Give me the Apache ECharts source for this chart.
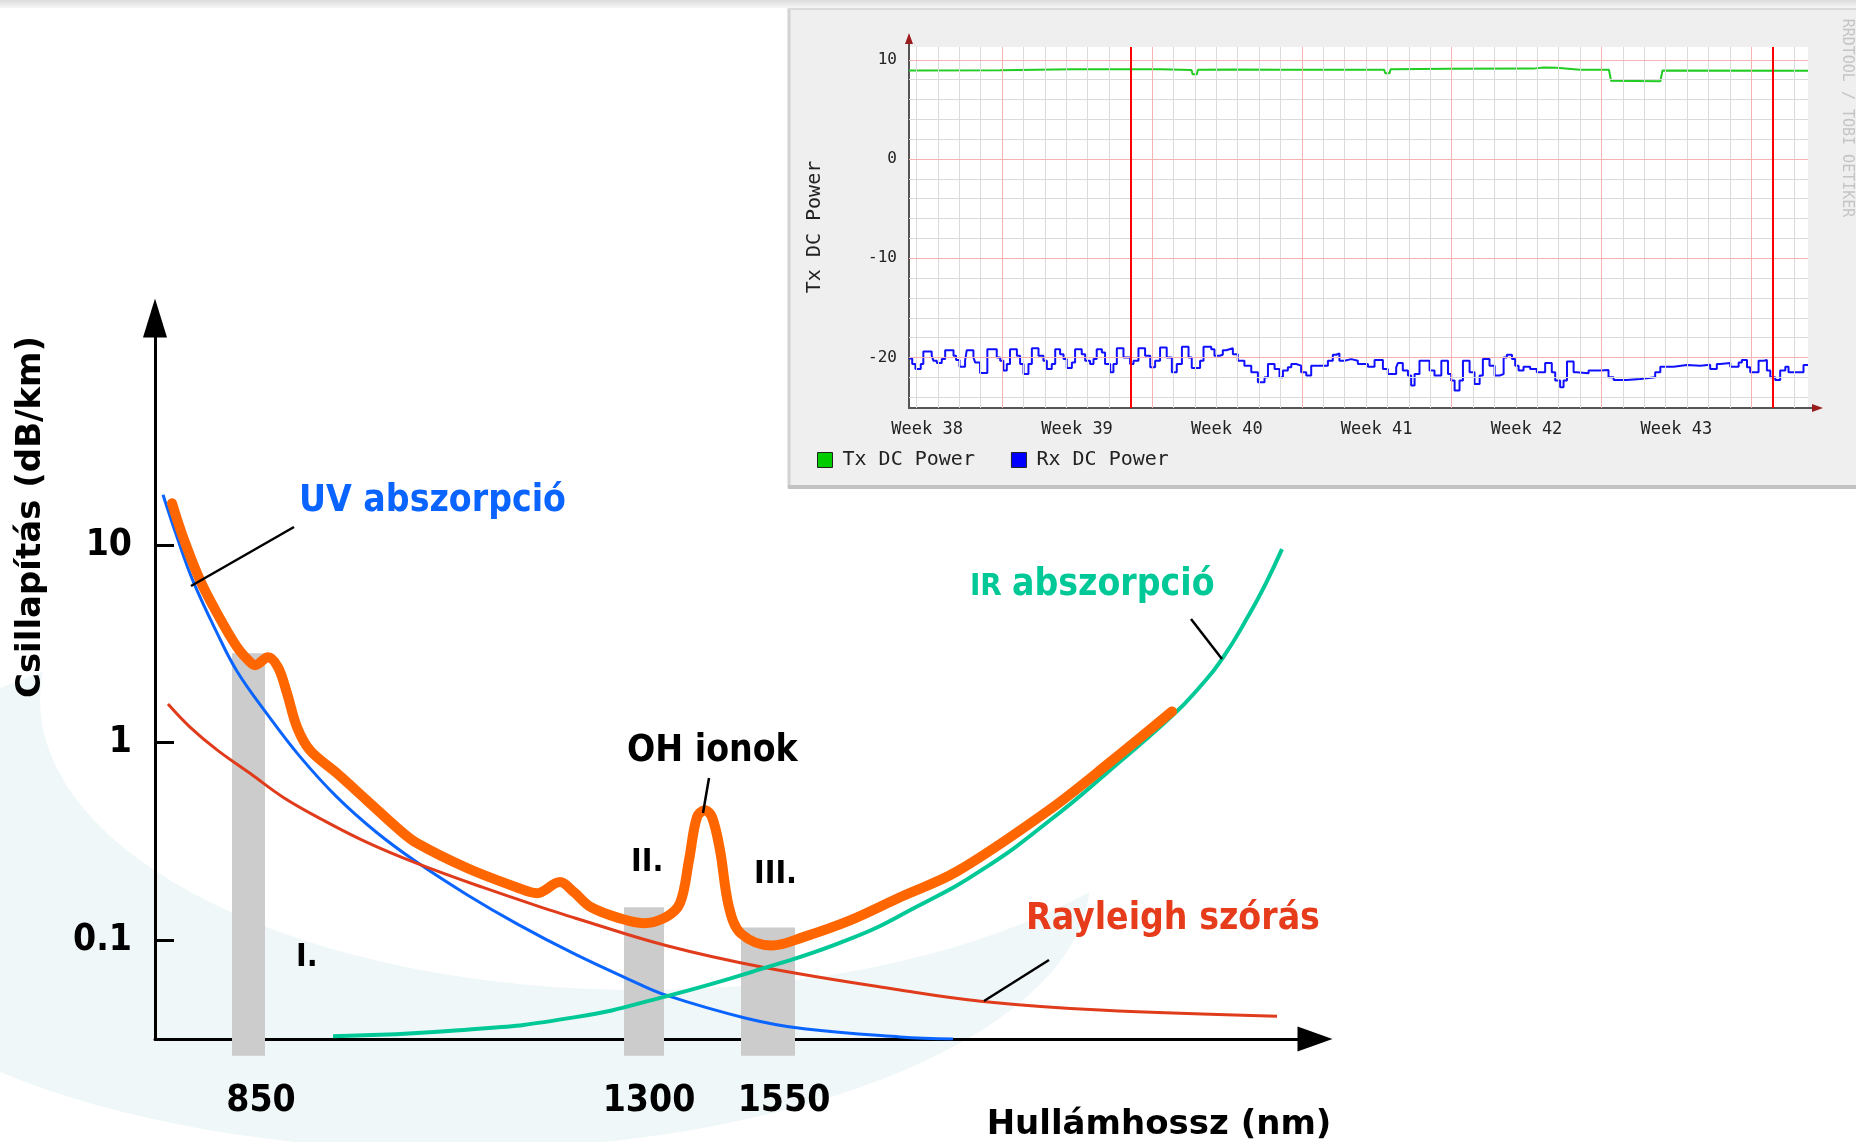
<!DOCTYPE html>
<html><head><meta charset="utf-8">
<script src="https://cdn.jsdelivr.net/npm/echarts@6/dist/echarts.min.js"></script>
<style>html,body{margin:0;padding:0;background:#fff}#c{width:1856px;height:1142px}</style>
</head><body><div id="c"></div>
<script>
// ================= Main chart: fibre attenuation (schematic) =================
// x = relative position along the (schematic) wavelength axis
const xTickPos = [10.6, 49.4, 62.9];
const xTickLabels = ['850', '1300', '1550'];
const yTickValues = [0.1, 1, 10];
const yTickLabels = ['0.1', '1', '10'];

// transmission windows (grey bands)
const bandStart = [7.7, 46.9, 58.6];
const bandEnd = [11.0, 50.9, 64.0];
const bandTop = [2.84, 0.147, 0.116];
const bandBottom = [0.026, 0.026, 0.026];

// UV absorption (dB/km)
const uvX = [0.8, 2.2, 3.8, 6.2, 8.2, 11.2, 14.5, 18.2, 22.2, 26.2, 31.2, 36.2, 41.9, 47.6, 51.1, 59.1, 64.9, 74.5, 79.8];
const uvY = [18, 11, 6.6, 3.6, 2.3, 1.4, 0.85, 0.53, 0.35, 0.248, 0.170, 0.121, 0.0855, 0.0627, 0.0527, 0.0403, 0.0356, 0.0324, 0.0316];

// Rayleigh scattering (dB/km)
const rayX = [1.3, 3.5, 6.2, 9.5, 12.8, 16.8, 21.2, 26.2, 32.8, 39.5, 41.9, 51.1, 60.8, 74.5, 82.8, 94.5, 112.2];
const rayY = [1.57, 1.2, 0.92, 0.70, 0.53, 0.406, 0.313, 0.245, 0.185, 0.142, 0.130, 0.094, 0.073, 0.056, 0.049, 0.0443, 0.0412];

// IR absorption (dB/km)
const irX = [17.8, 30.4, 41.9, 51.1, 60.8, 69.5, 76.2, 82.8, 89.5, 95.5, 101.8, 104.3, 106.7, 109.5, 111.1, 112.7];
const irY = [0.0327, 0.035, 0.0407, 0.052, 0.072, 0.1015, 0.148, 0.229, 0.405, 0.726, 1.38, 1.87, 2.65, 4.53, 6.43, 9.55];

// total attenuation (dB/km)
const totX = [1.7, 2.8, 4.5, 6.2, 8.2, 9.5, 10.0, 11.3, 12.3, 13.2, 14.2, 15.5, 18.2, 21.2, 24.5, 26.2, 31.2, 36.2, 38.2, 40.5, 41.9, 43.6, 46.5, 48.8, 51.1, 52.5, 53.4, 54.2, 55.0, 55.7, 56.5, 57.4, 58.6, 61.7, 64.9, 69.5, 74.5, 80.2, 89.5, 95.5, 101.7];
const totY = [16.3, 11.0, 6.65, 4.53, 3.05, 2.56, 2.47, 2.71, 2.41, 1.78, 1.2, 0.916, 0.70, 0.51, 0.36, 0.31, 0.232, 0.185, 0.173, 0.197, 0.175, 0.147, 0.129, 0.122, 0.131, 0.154, 0.254, 0.42, 0.455, 0.42, 0.286, 0.147, 0.108, 0.094, 0.104, 0.126, 0.165, 0.223, 0.46, 0.796, 1.44];

// ================= Inset: RRDtool graph =================
// time in days (day 0 = start of week 38)
const weekLabelPos = [3.5, 10.5, 17.5, 24.5, 31.5, 38.5];
const weekLabels = ['Week 38', 'Week 39', 'Week 40', 'Week 41', 'Week 42', 'Week 43'];
const rrdYTicks = [-20, -10, 0, 10];
const weekLines = [7, 14, 21, 28, 35, 42];
const majorYLines = [-20, -10, 0, 10];
const vruleDays = [13, 43];

const txT = [2.65, 6.9, 10.3, 14.4, 15.85, 15.9, 16.1, 16.15, 17.8, 20.1, 24.85, 24.9, 25.1, 25.15, 27.9, 31.8, 32.3, 32.9, 34.0, 35.35, 35.45, 37.75, 37.85, 44.65];
const txV = [8.92, 8.95, 9.05, 9.05, 8.98, 8.55, 8.55, 9.0, 9.02, 9.0, 9.0, 8.65, 8.65, 9.05, 9.1, 9.12, 9.24, 9.2, 9.0, 9.0, 7.9, 7.85, 8.92, 8.9];

const rxT = [2.65,2.8,2.95,3.2,3.32,3.71,3.79,3.95,4.18,4.34,4.73,4.85,5.01,5.27,5.35,5.66,5.74,5.97,6.31,6.75,6.91,7.06,7.22,7.37,7.69,7.84,8.0,8.23,8.39,8.7,8.93,9.09,9.32,9.48,9.71,9.87,10.02,10.26,10.41,10.72,10.88,11.11,11.27,11.42,11.66,11.81,12.05,12.2,12.36,12.67,12.98,13.14,13.37,13.68,13.92,14.15,14.38,14.69,14.93,15.16,15.4,15.71,15.86,16.25,16.41,
 16.77,16.92,17.16,17.31,17.47,17.78,18.01,18.32,18.64,18.95,19.26,19.42,19.73,19.96,20.12,20.35,20.51,20.74,20.97,21.21,21.44,22.22,22.45,22.61,22.76,23.0,23.31,23.62,24.09,24.4,24.79,25.02,25.41,25.49,25.72,25.96,26.11,26.27,26.5,26.97,27.2,27.52,27.83,27.98,28.14,28.37,28.53,28.84,29.07,29.31,29.46,29.77,30.01,30.24,30.43,
 30.58,30.82,30.97,31.13,31.36,31.67,31.98,32.37,32.68,32.84,33.07,33.23,33.39,33.7,33.85,34.4,34.94,35.33,35.57,36.19,36.81,37.51,37.75,38.37,38.99,39.62,40.08,40.39,40.55,41.02,41.41,41.56,41.8,41.95,42.34,42.58,42.73,42.89,43.12,43.35,43.59,43.74,44.44,44.65];
const rxV = [-20.1,-20.67,-21.17,-20.67,-19.4,-19.83,-20.33,-20.57,-20.17,-19.27,-19.83,-20.27,-20.93,-20.33,-19.27,-20.0,-20.5,-21.57,-19.17,-20.0,-20.33,-21.33,-20.67,-19.17,-19.83,-20.67,-21.67,-20.67,-19.07,-19.83,-20.33,-21.17,-20.67,-19.17,-19.67,-20.17,-21.07,-20.5,-19.17,-19.67,-20.33,-20.67,-20.17,-19.17,-19.5,-20.67,-21.5,-20.67,-19.07,-20.0,-20.67,-20.33,-19.07,-19.83,-21.0,-20.33,-19.0,-20.0,-21.5,-20.67,-18.93,-20.0,-21.07,-20.33,-18.93,
 -19.17,-19.83,-19.73,-19.27,-19.07,-19.67,-20.33,-20.83,-21.5,-22.5,-22.0,-20.67,-21.17,-22.0,-21.33,-21.0,-20.67,-20.83,-21.5,-21.83,-20.83,-20.33,-19.73,-19.6,-20.33,-20.17,-20.33,-20.67,-20.93,-20.27,-21.17,-21.67,-21.0,-20.57,-21.33,-21.83,-22.83,-21.67,-20.33,-21.33,-21.83,-20.33,-21.67,-22.33,-23.33,-22.33,-20.33,-21.5,-22.67,-21.83,-20.17,-20.83,-21.83,-21.67,-20.0,
 -19.73,-20.17,-20.83,-21.33,-20.93,-21.17,-21.5,-20.57,-21.5,-22.33,-23.0,-22.33,-20.4,-21.5,-21.6,-21.33,-21.27,-22.0,-22.27,-22.17,-22.0,-21.5,-20.93,-20.77,-20.83,-20.73,-21.17,-20.67,-20.57,-20.93,-20.5,-20.27,-21.0,-21.5,-20.33,-20.27,-21.33,-22.0,-22.27,-21.33,-20.93,-21.5,-20.77,-20.77];

// ---------------------------------------------------------------
const COND = "'DejaVu Sans Condensed', 'Liberation Sans Narrow', 'DejaVu Sans', sans-serif";
const SANS = "'DejaVu Sans', sans-serif";
const MONO = "'DejaVu Sans Mono', monospace";
const zip = (a, b) => a.map((v, i) => [v, b[i]]);
const lookup = (pos, labels) => v => {
  const i = pos.findIndex(p => Math.abs(p - v) < 1e-6 * Math.max(1, Math.abs(p)));
  return i >= 0 ? labels[i] : '';
};

const gridLines = [];
for (let d = 3; d <= 44; d++) if (weekLines.indexOf(d) < 0) gridLines.push({ xAxis: d, lineStyle: { color: '#dadada', width: 1, type: 'solid' } });
for (let v = -24; v <= 10; v += 2) if (majorYLines.indexOf(v) < 0) gridLines.push({ yAxis: v, lineStyle: { color: '#dadada', width: 1, type: 'solid' } });
weekLines.forEach(d => gridLines.push({ xAxis: d, lineStyle: { color: '#f3b3b3', width: 1, type: 'solid' } }));
majorYLines.forEach(v => gridLines.push({ yAxis: v, lineStyle: { color: '#f3b3b3', width: 1, type: 'solid' } }));

const chart = echarts.init(document.getElementById('c'), null, { renderer: 'canvas' });

const txt = (text, x, y, size, color) => ({
  type: 'text', x, y, z: 20,
  style: { text, fill: color, fontSize: size, fontWeight: 'bold', fontFamily: COND, align: 'left', verticalAlign: 'middle' }
});

const option = {
  animation: false,
  backgroundColor: '#fff',
  grid: [
    { left: 155, top: 318, width: 1160, height: 721 },
    { left: 909, top: 47, width: 899, height: 361, show: true, backgroundColor: '#fff', borderWidth: 0 }
  ],
  xAxis: [
    {
      gridIndex: 0, type: 'value', min: 0, max: 116,
      axisLine: { show: true, onZero: false, symbol: ['none', 'triangle'], symbolSize: [25, 35], lineStyle: { color: '#000', width: 3 } },
      axisTick: { show: false }, splitLine: { show: false },
      axisLabel: { customValues: xTickPos, formatter: lookup(xTickPos, xTickLabels), margin: 44, fontSize: 37, fontWeight: 'bold', fontFamily: COND, color: '#000' }
    },
    {
      gridIndex: 1, type: 'value', min: 2.65, max: 44.65,
      axisLine: { show: true, onZero: false, lineStyle: { color: '#555', width: 2 } },
      axisTick: { show: false }, splitLine: { show: false },
      axisLabel: { customValues: weekLabelPos, formatter: lookup(weekLabelPos, weekLabels), margin: 13, fontSize: 17, fontFamily: MONO, color: '#222' }
    }
  ],
  yAxis: [
    {
      gridIndex: 0, type: 'log', logBase: 10, min: Math.pow(10, -1.5), max: Math.pow(10, 2.15),
      axisLine: { show: true, onZero: false, symbol: ['none', 'triangle'], symbolSize: [24, 39], lineStyle: { color: '#000', width: 3 } },
      axisTick: { show: true, inside: true, length: 19, customValues: yTickValues, lineStyle: { color: '#000', width: 3 } },
      minorTick: { show: false }, splitLine: { show: false }, minorSplitLine: { show: false },
      axisLabel: { customValues: yTickValues, formatter: lookup(yTickValues, yTickLabels), margin: 23, fontSize: 37, fontWeight: 'bold', fontFamily: COND, color: '#000' }
    },
    {
      gridIndex: 1, type: 'value', min: -25.1, max: 11.3,
      axisLine: { show: true, onZero: false, lineStyle: { color: '#555', width: 2 } },
      axisTick: { show: false }, splitLine: { show: false },
      axisLabel: { customValues: rrdYTicks, margin: 12, fontSize: 16, fontFamily: MONO, color: '#222' }
    }
  ],
  legend: {
    data: ['Tx DC Power', 'Rx DC Power'], left: 817, top: 450, padding: 0, itemWidth: 15, itemHeight: 15, itemGap: 36,
    icon: 'rect', itemStyle: { borderColor: '#222', borderWidth: 1 },
    textStyle: { fontFamily: MONO, fontSize: 20, color: '#222', padding: [0, 0, 0, 5] }
  },
  series: [
    {
      type: 'custom', name: 'bands', xAxisIndex: 0, yAxisIndex: 0, z: 1, clip: false, silent: true,
      encode: { x: [0, 1], y: [2, 3] },
      data: bandStart.map((s, i) => [s, bandEnd[i], bandTop[i], bandBottom[i]]),
      renderItem: (params, api) => {
        const p0 = api.coord([api.value(0), api.value(2)]);
        const p1 = api.coord([api.value(1), api.value(3)]);
        return { type: 'rect', shape: { x: p0[0], y: p0[1], width: p1[0] - p0[0], height: p1[1] - p0[1] }, style: { fill: '#cccccc' } };
      }
    },
    { type: 'line', name: 'UV abszorpció', xAxisIndex: 0, yAxisIndex: 0, z: 3, data: zip(uvX, uvY), showSymbol: false, smooth: 0.4, lineStyle: { color: '#0a64ff', width: 3 } },
    { type: 'line', name: 'Rayleigh szórás', xAxisIndex: 0, yAxisIndex: 0, z: 3, data: zip(rayX, rayY), showSymbol: false, smooth: 0.4, lineStyle: { color: '#e03c1c', width: 3 } },
    { type: 'line', name: 'IR abszorpció', xAxisIndex: 0, yAxisIndex: 0, z: 3, data: zip(irX, irY), showSymbol: false, smooth: 0.5, lineStyle: { color: '#00c896', width: 4 } },
    { type: 'line', name: 'Összes', xAxisIndex: 0, yAxisIndex: 0, z: 4, data: zip(totX, totY), showSymbol: false, smooth: 0.35, lineStyle: { color: '#ff6600', width: 10, cap: 'round', join: 'round' } },

    {
      type: 'line', name: 'rrdgrid', xAxisIndex: 1, yAxisIndex: 1, z: 1, data: [], silent: true,
      markLine: { silent: true, symbol: ['none', 'none'], label: { show: false }, animation: false, data: gridLines }
    },
    { type: 'line', name: 'Tx DC Power', xAxisIndex: 1, yAxisIndex: 1, z: 3, data: zip(txT, txV), showSymbol: false, color: '#00cc00', lineStyle: { color: '#22cc22', width: 2 } },
    { type: 'line', name: 'Rx DC Power', xAxisIndex: 1, yAxisIndex: 1, z: 3, data: zip(rxT, rxV), step: 'end', showSymbol: false, color: '#0000ff', lineStyle: { color: '#1010ff', width: 2 } },
    {
      type: 'line', name: 'vrule', xAxisIndex: 1, yAxisIndex: 1, z: 5, data: [], silent: true,
      markLine: { silent: true, symbol: ['none', 'none'], label: { show: false }, animation: false,
        data: vruleDays.map(d => ({ xAxis: d, lineStyle: { color: '#ff0000', width: 2, type: 'solid' } })) }
    }
  ],
  graphic: { elements: [
    // decorative background swoosh
    { type: 'circle', shape: { cx: 0, cy: 0, r: 1 }, x: 450, y: 880, scaleX: 640, scaleY: 270, style: { fill: '#eff7f8' }, z: -10, silent: true },
    { type: 'circle', shape: { cx: 0, cy: 0, r: 1 }, x: 640, y: 700, scaleX: 600, scaleY: 290, style: { fill: '#ffffff' }, z: -9, silent: true },
    { type: 'rect', shape: { x: 0, y: 0, width: 1856, height: 8 }, style: { fill: new echarts.graphic.LinearGradient(0, 0, 0, 1, [{ offset: 0, color: '#dcdcdc' }, { offset: 1, color: '#f6f6f6' }]) }, z: -8, silent: true },
    // RRD panel
    { type: 'rect', shape: { x: 788, y: 8, width: 1068, height: 480 }, style: { fill: '#efefef' }, z: -5, silent: true },
    { type: 'line', shape: { x1: 789, y1: 8, x2: 789, y2: 488 }, style: { stroke: '#d2d2d2', lineWidth: 3 }, z: -4, silent: true },
    { type: 'line', shape: { x1: 788, y1: 9, x2: 1856, y2: 9 }, style: { stroke: '#dadada', lineWidth: 2 }, z: -4, silent: true },
    { type: 'line', shape: { x1: 788, y1: 487, x2: 1856, y2: 487 }, style: { stroke: '#c2c2c2', lineWidth: 4 }, z: -4, silent: true },
    // RRD axis arrows
    { type: 'line', shape: { x1: 909, y1: 47, x2: 909, y2: 43 }, style: { stroke: '#555', lineWidth: 2 }, z: 6, silent: true },
    { type: 'polygon', shape: { points: [[909, 33], [905, 44], [913, 44]] }, style: { fill: '#9a1c1c' }, z: 6, silent: true },
    { type: 'line', shape: { x1: 1808, y1: 408, x2: 1813, y2: 408 }, style: { stroke: '#555', lineWidth: 2 }, z: 6, silent: true },
    { type: 'polygon', shape: { points: [[1823, 408], [1812, 404], [1812, 412]] }, style: { fill: '#9a1c1c' }, z: 6, silent: true },
    // RRD texts
    { type: 'text', x: 815, y: 227, rotation: Math.PI / 2, z: 6, style: { text: 'Tx DC Power', fill: '#222', fontSize: 20, fontFamily: MONO, align: 'center', verticalAlign: 'middle' } },
    { type: 'text', x: 1847, y: 118, rotation: -Math.PI / 2, z: 6, style: { text: 'RRDTOOL / TOBI OETIKER', fill: '#c4c4c4', fontSize: 15, fontFamily: MONO, align: 'center', verticalAlign: 'middle' } },
    // main axis titles
    { type: 'text', x: 31, y: 517, rotation: Math.PI / 2, z: 20, style: { text: 'Csillapítás (dB/km)', fill: '#000', fontSize: 34, fontWeight: 'bold', fontFamily: SANS, align: 'center', verticalAlign: 'middle' } },
    { type: 'text', x: 1159, y: 1125, z: 20, style: { text: 'Hullámhossz (nm)', fill: '#000', fontSize: 34, fontWeight: 'bold', fontFamily: SANS, align: 'center', verticalAlign: 'middle' } },
    // annotations
    txt('UV abszorpció', 299, 501, 37, '#0a64ff'),
    txt('IR', 970, 587, 31, '#00c896'),
    txt('abszorpció', 1012, 585, 37, '#00c896'),
    txt('Rayleigh szórás', 1026, 919, 37, '#e63c1c'),
    txt('OH ionok', 627, 751, 37, '#000'),
    txt('I.', 296, 958, 32, '#000'),
    txt('II.', 631, 863, 32, '#000'),
    txt('III.', 754, 875, 32, '#000'),
    // leader lines
    { type: 'line', shape: { x1: 294, y1: 527, x2: 191, y2: 586 }, style: { stroke: '#000', lineWidth: 2.5 }, z: 20, silent: true },
    { type: 'line', shape: { x1: 709, y1: 778, x2: 703, y2: 813 }, style: { stroke: '#000', lineWidth: 2.5 }, z: 20, silent: true },
    { type: 'line', shape: { x1: 1191, y1: 619, x2: 1222, y2: 659 }, style: { stroke: '#000', lineWidth: 2.5 }, z: 20, silent: true },
    { type: 'line', shape: { x1: 1049, y1: 960, x2: 984, y2: 1001 }, style: { stroke: '#000', lineWidth: 2.5 }, z: 20, silent: true }
  ] }
};
chart.setOption(option);
</script>
</body></html>
